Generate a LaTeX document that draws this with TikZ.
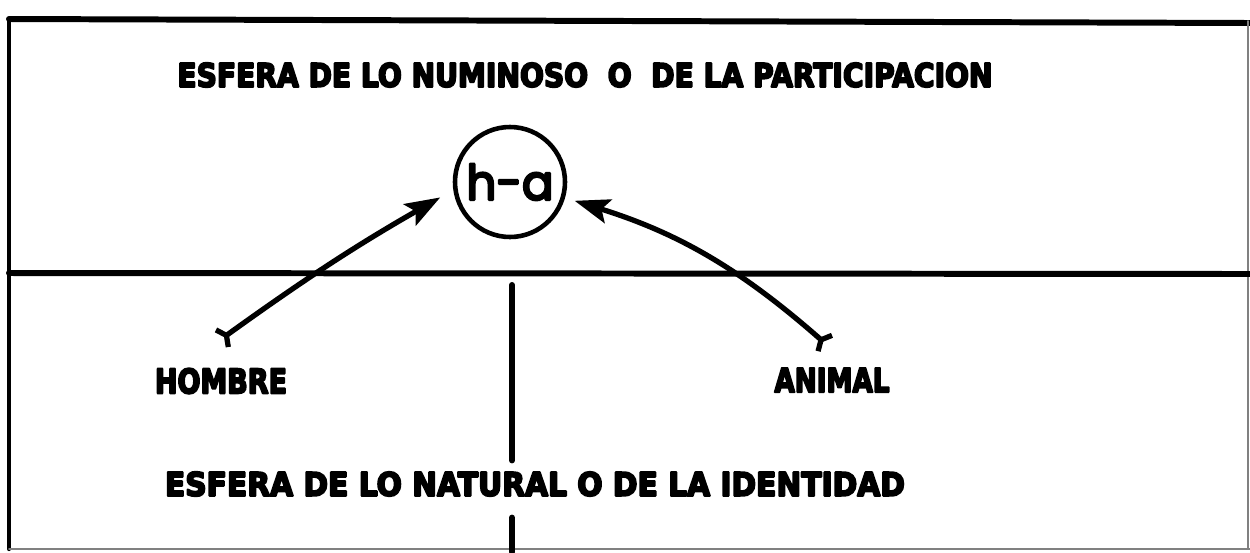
\documentclass[tikz,border=0pt]{standalone}
\usepackage{graphicx}
\usepackage{fontspec}
\usetikzlibrary{arrows.meta}
\newfontfamily\heavyfont{DejaVu Sans Bold}[FakeBold=6]
\newfontfamily\handfont{Poppins}[FakeBold=5]
\newlength\pxu
\setlength\pxu{0.02cm}
\newcommand\lettering[3]{\resizebox{#1\pxu}{#2\pxu}{\heavyfont #3}}
\begin{document}
\begin{tikzpicture}[x=0.02cm, y=-0.02cm, >={Stealth[length=20pt,width=14pt,inset=4pt]}, line join = round, line cap = round,
	tag/.style={inner sep=0pt},
	sphere/.style={draw, circle, line width=2.6pt, minimum size=110\pxu, inner sep=0pt},
	link/.style={line width=3pt, {Straight Barb[reversed,length=3pt,width=12pt]}->}]
			\useasboundingbox (0,0) rectangle (1250,552);
			\draw [line width=3.4pt] (9,19)--(1250,23);
			\draw [line width=2.4pt] (9,19)--(9,549);
			\draw [line width=1pt, gray] (9,549)--(1250,549) (1248,21)--(1248,549);
			\draw [line width=3.4pt] (9,273)--(1250,274);
			\node [tag] (numinoso) at (585,75) {\lettering{815}{24}{ESFERA DE LO NUMINOSO\ \ O\ \ DE LA PARTICIPACION}};
			\node [sphere] (ha) at (510,182) {\resizebox{87\pxu}{36\pxu}{\handfont h-a}};
			\node [tag] (hombre) at (221,381) {\lettering{132}{25}{HOMBRE}};
			\node [tag] (animal) at (832,380) {\lettering{115}{24}{ANIMAL}};
			\node [tag] (natural) at (535,484) {\lettering{740}{24}{ESFERA DE LO NATURAL O DE LA IDENTIDAD}};
			\coordinate (hombretail) at (220,340);
			\coordinate (animaltail) at (827,345);
			\coordinate (stemtop) at (512,285);
			\coordinate (stembottom) at (512,552);
			\draw [link, shorten >=15\pxu] (hombretail) to[bend left=3] (ha.188);
			\draw [link, shorten >=10\pxu] (animaltail) to[bend right=12] (ha.344);
			\draw [line width=3.4pt, shorten >=11\pxu] (stemtop)--(stemtop |- natural.north);
			\draw [line width=3.4pt, shorten <=21\pxu] (stembottom |- natural.south)--(stembottom);
		\end{tikzpicture}
\end{document}
